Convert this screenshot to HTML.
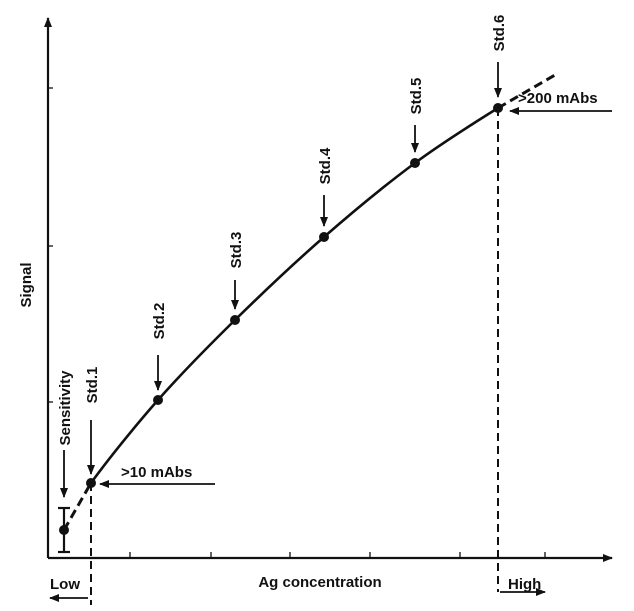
<!DOCTYPE html>
<html><head><style>body{margin:0;background:#fff}svg{display:block}text{font-family:"Liberation Sans",sans-serif;fill:#111;font-weight:bold}</style></head>
<body>
<svg width="634" height="611" viewBox="0 0 634 611">
<defs><marker id="a" markerWidth="10" markerHeight="8" refX="9" refY="4" orient="auto" markerUnits="userSpaceOnUse"><path d="M0,0L10,4L0,8z" fill="#111"/></marker></defs>
<g stroke="#111" stroke-width="2.2" fill="none">
<line x1="48" y1="558" x2="48" y2="18" marker-end="url(#a)"/>
<line x1="48" y1="558" x2="612" y2="558" marker-end="url(#a)"/>
<g stroke-width="1.3"><line x1="48" y1="88" x2="53" y2="88"/><line x1="48" y1="246" x2="53" y2="246"/><line x1="48" y1="402" x2="53" y2="402"/>
<line x1="130" y1="558" x2="130" y2="552"/><line x1="211" y1="558" x2="211" y2="552"/><line x1="290" y1="558" x2="290" y2="552"/><line x1="370" y1="558" x2="370" y2="552"/><line x1="460" y1="558" x2="460" y2="552"/><line x1="545" y1="558" x2="545" y2="552"/></g>
<path d="M91,483 C106.7,461.3 134,427.2 158,400 C182,372.8 207.3,347.2 235,320 C262.7,292.8 294,263.2 324,237 C354,210.8 386,184.5 415,163 C444,141.5 474.7,122.7 498,108" stroke-width="2.6"/>
<path d="M64,530 L91,483" stroke-width="3" stroke-dasharray="9,5"/>
<path d="M498,108 L555,75" stroke-width="3" stroke-dasharray="9,5"/>
<line x1="91" y1="483" x2="91" y2="605" stroke-dasharray="8,5" stroke-width="2"/>
<line x1="498" y1="108" x2="498" y2="592" stroke-dasharray="8,5" stroke-width="2"/>
<line x1="64" y1="508" x2="64" y2="552"/><line x1="58" y1="508" x2="70" y2="508"/><line x1="58" y1="552" x2="70" y2="552"/>
<g stroke-width="1.8">
<line x1="88" y1="598" x2="50" y2="598" marker-end="url(#a)"/>
<line x1="500" y1="592" x2="545" y2="592" marker-end="url(#a)"/>
<line x1="215" y1="484" x2="100" y2="484" marker-end="url(#a)"/>
<line x1="612" y1="111" x2="510" y2="111" marker-end="url(#a)"/>
<line x1="64" y1="450" x2="64" y2="497" marker-end="url(#a)"/>
<line x1="91" y1="420" x2="91" y2="474" marker-end="url(#a)"/>
<line x1="158" y1="355" x2="158" y2="390" marker-end="url(#a)"/>
<line x1="235" y1="280" x2="235" y2="309" marker-end="url(#a)"/>
<line x1="324" y1="195" x2="324" y2="226" marker-end="url(#a)"/>
<line x1="415" y1="125" x2="415" y2="152" marker-end="url(#a)"/>
<line x1="498" y1="62" x2="498" y2="97" marker-end="url(#a)"/>
</g></g>
<g fill="#111"><circle cx="64" cy="530" r="5"/><circle cx="91" cy="483" r="5"/><circle cx="158" cy="400" r="5"/><circle cx="235" cy="320" r="5"/><circle cx="324" cy="237" r="5"/><circle cx="415" cy="163" r="5"/><circle cx="498" cy="108" r="5"/></g>
<g font-size="15">
<text transform="translate(31,285) rotate(-90)" text-anchor="middle">Signal</text>
<text x="320" y="587" text-anchor="middle">Ag concentration</text>
<text x="50" y="589">Low</text>
<text x="508" y="589">High</text>
<text x="121" y="477">&gt;10 mAbs</text>
<text x="518" y="103">&gt;200 mAbs</text>
<text transform="translate(70,408) rotate(-90)" text-anchor="middle">Sensitivity</text>
<text transform="translate(97,385) rotate(-90)" text-anchor="middle">Std.1</text>
<text transform="translate(164,321) rotate(-90)" text-anchor="middle">Std.2</text>
<text transform="translate(241,250) rotate(-90)" text-anchor="middle">Std.3</text>
<text transform="translate(330,166) rotate(-90)" text-anchor="middle">Std.4</text>
<text transform="translate(421,96) rotate(-90)" text-anchor="middle">Std.5</text>
<text transform="translate(504,33) rotate(-90)" text-anchor="middle">Std.6</text>
</g>
</svg>
</body></html>
